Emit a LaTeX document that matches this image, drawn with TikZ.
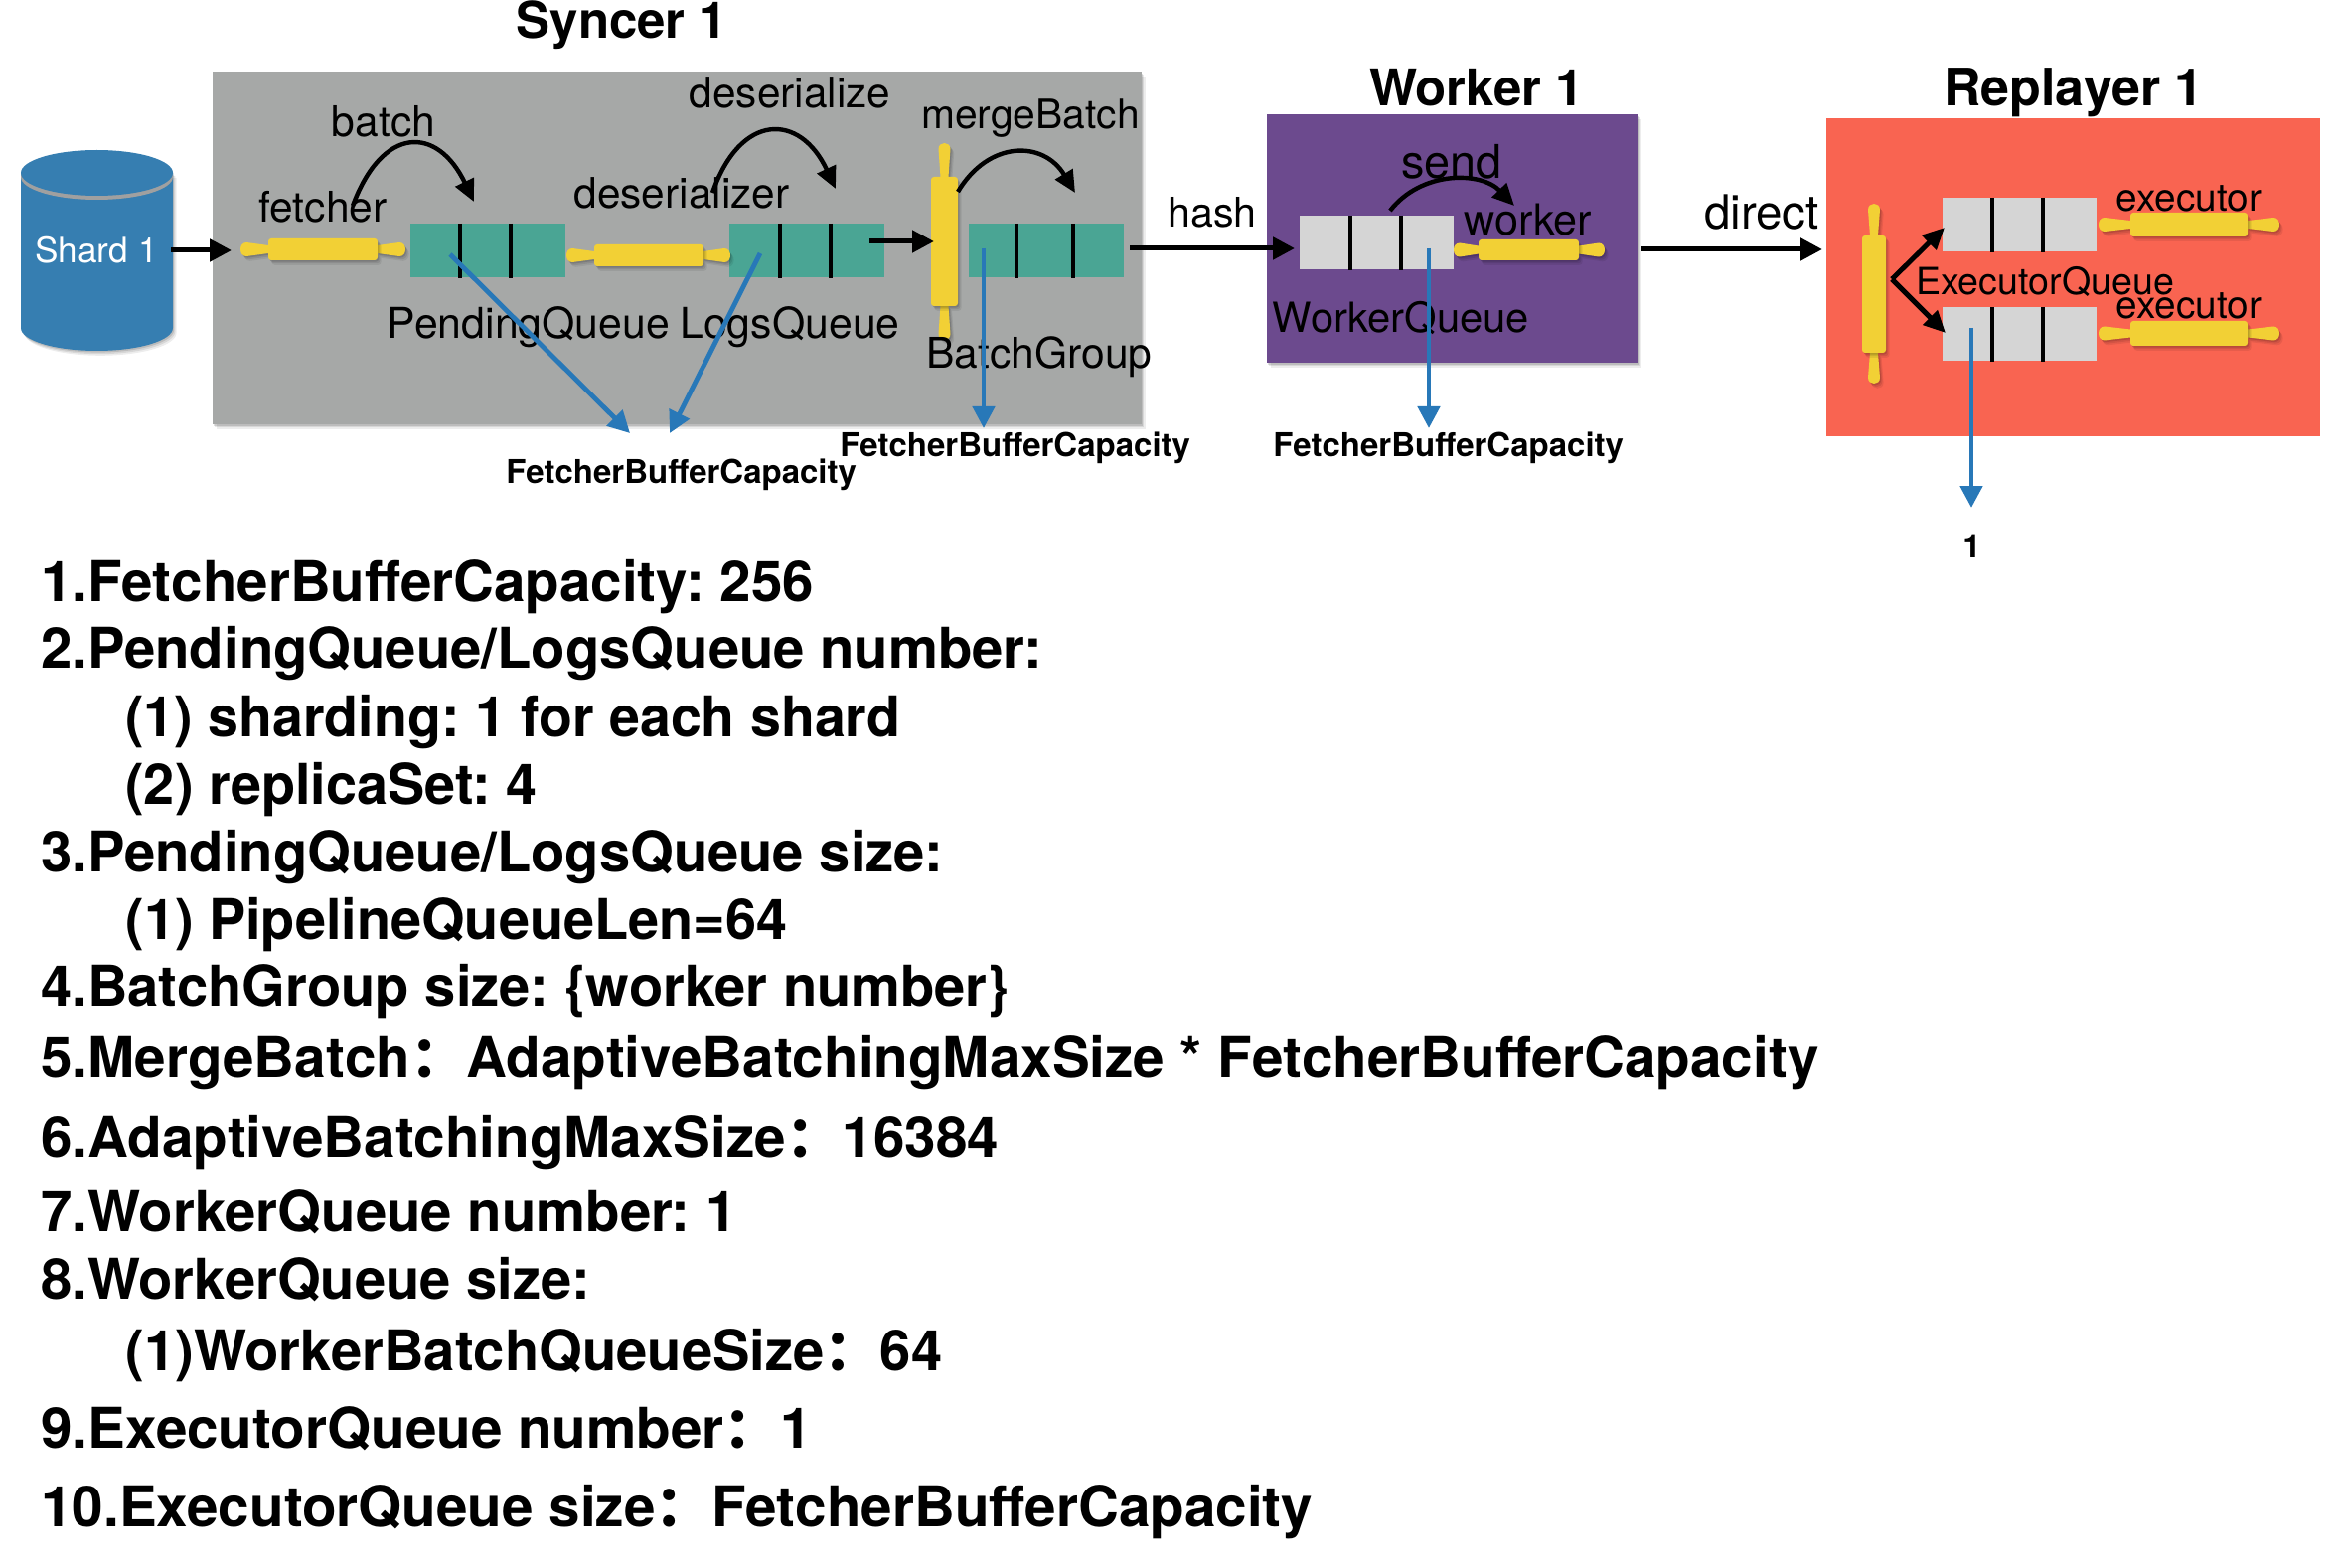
\documentclass[tikz,border=0pt]{standalone}
\usepackage{fontspec}
\setmainfont{TeX Gyre Heros}
\newfontfamily\cjk{Noto Sans CJK SC}
\usetikzlibrary{arrows.meta,shadows,shapes.geometric}
\frenchspacing
\definecolor{sgray}{HTML}{A6A8A7}
\definecolor{steal}{HTML}{4AA594}
\definecolor{syellow}{HTML}{F2D035}
\definecolor{spurple}{HTML}{6C4A8E}
\definecolor{sred}{HTML}{F96451}
\definecolor{qgray}{HTML}{D5D5D5}
\definecolor{sblue}{HTML}{2878B8}
\definecolor{scyl}{HTML}{367EB1}
\definecolor{srim}{HTML}{A0A0A0}
\tikzset{
  softshadow/.style={
    drop shadow={shadow xshift=1.8pt,shadow yshift=-2.4pt,opacity=.07,fill=black},
    drop shadow={shadow xshift=1.2pt,shadow yshift=-1.6pt,opacity=.09,fill=black},
    drop shadow={shadow xshift=.6pt,shadow yshift=-.8pt,opacity=.12,fill=black}},
  areabox/.style={anchor=north west,inner sep=0pt,outer sep=0pt,draw=none,fill=#1},
  queuebox/.style={anchor=north west,inner sep=0pt,outer sep=0pt,draw=none,fill=#1},
  divider/.style={line width=2.2pt,black},
  rollerbody/.style={anchor=north west,inner sep=0pt,outer sep=0pt,fill=syellow,draw=none,rounded corners=1.5pt},
  rollerhandle/.style={fill=syellow,draw=none},
  flowarrow/.style={line width=2.5pt,black,-{Triangle[length=11pt,width=11pt]}},
  curvedarrow/.style={line width=2.2pt,black,-{Triangle[length=11pt,width=10pt]}},
  sizearrow/.style={line width=2.4pt,sblue,-{Triangle[length=11pt,width=11pt]}},
  titletext/.style={anchor=base,inner sep=0pt,font=\fontsize{#1}{30}\selectfont\bfseries},
  titletext/.default=25.5,
  lab/.style={anchor=base,inner sep=0pt,font=\fontsize{#1}{#1}\selectfont},
  lab/.default=21,
  capnote/.style={anchor=base west,inner sep=0pt,font=\fontsize{16.5}{20}\selectfont\bfseries},
  listitem/.style={anchor=base west,inner sep=0pt,font=\fontsize{28.3}{34}\selectfont\bfseries},
}
\newcommand{\narrowed}[2]{\scalebox{#1}[1]{#2}}
% name, left, top, right, bottom, style
\newcommand{\pxbox}[6]{\node[#6,minimum width={(#4-#2)*0.5pt},minimum height={(#5-#3)*0.5pt}] (#1) at (#2,#3) {};}
% queue: name,left,top,right,bottom,colour,div1,div2
\newcommand{\pxqueue}[8]{\pxbox{#1}{#2}{#3}{#4}{#5}{queuebox=#6}
  \draw[divider] (#7,#3) -- (#7,#5+1); \draw[divider] (#8,#3) -- (#8,#5+1);}
% horizontal roller: name, xleft, xb1, xb2, xright, ytop, ybottom
\newcommand{\hroller}[7]{%
  \pgfmathsetmacro{\yc}{(#6+#7)/2}
  \fill[rollerhandle,softshadow] (#3,\yc-4) -- (#2+6,\yc-7) .. controls (#2-2,\yc-7) and (#2-2,\yc+7) .. (#2+6,\yc+7) -- (#3,\yc+4) -- cycle;
  \fill[rollerhandle,softshadow] (#4,\yc-4) -- (#5-6,\yc-7) .. controls (#5+2,\yc-7) and (#5+2,\yc+7) .. (#5-6,\yc+7) -- (#4,\yc+4) -- cycle;
  \pxbox{#1}{#3}{#6}{#4}{#7}{rollerbody,softshadow}}
% vertical roller: name, ytop, yb1, yb2, ybottom, xleft, xright
\newcommand{\vroller}[7]{%
  \pgfmathsetmacro{\xc}{(#6+#7)/2}
  \fill[rollerhandle,softshadow] (\xc-4,#3) -- (\xc-6,#2+6) .. controls (\xc-6,#2-2) and (\xc+6,#2-2) .. (\xc+6,#2+6) -- (\xc+4,#3) -- cycle;
  \fill[rollerhandle,softshadow] (\xc-4,#4) -- (\xc-6,#5-6) .. controls (\xc-6,#5+2) and (\xc+6,#5+2) .. (\xc+6,#5-6) -- (\xc+4,#4) -- cycle;
  \pxbox{#1}{#6}{#3}{#7}{#4}{rollerbody,softshadow}}
\begin{document}
\begin{tikzpicture}[x=0.5pt,y=-0.5pt]
\useasboundingbox (0,0) rectangle (2358,1578);
\fill[white] (0,0) rectangle (2358,1578);
% areas
\pxbox{syncer}{214}{72}{1149}{427}{areabox=sgray,softshadow}
\pxbox{worker}{1275}{115}{1648}{365}{areabox=spurple,softshadow}
\pxbox{replayer}{1838}{119}{2335}{439}{areabox=sred}
\node[titletext] (tsyncer) at (626,39) {Syncer 1};
\node[titletext] (tworker) at (1486,107) {Worker 1};
\node[titletext=26] (treplayer) at (2087,107) {Replayer 1};
% shard cylinder
\fill[scyl,softshadow] (21,174) -- (21,330) arc[start angle=180,end angle=0,x radius=76.5,y radius=23] -- (174,174) -- cycle;
\fill[srim] (21,178) arc[start angle=180,end angle=0,x radius=76.5,y radius=23] -- (174,174) -- (21,174) -- cycle;
\node[fill=scyl,draw=none,ellipse,inner sep=0pt,minimum width=76.5pt,minimum height=23pt] (cyltop) at (97.5,174) {};
\node[lab=17.6,text=white] (shard) at (97,265) {Shard 1};
% queues
\pxqueue{pending}{413}{225}{569}{279}{steal}{463}{514}
\pxqueue{logs}{734}{225}{890}{279}{steal}{785}{836}
\pxqueue{batchgroup}{975}{225}{1131}{279}{steal}{1023}{1080}
\pxqueue{wqueue}{1308}{217}{1463}{271}{qgray}{1359}{1410}
\pxqueue{equeueA}{1955}{199}{2110}{253}{qgray}{2005}{2056}
\pxqueue{equeueB}{1955}{309}{2110}{363}{qgray}{2005}{2056}
% rollers
\hroller{fetcher}{242}{270}{380}{408}{240}{262}
\hroller{deser}{570}{598}{708}{735}{246}{268}
\vroller{merge}{144}{178}{308}{342}{937}{964}
\hroller{wroller}{1463}{1488}{1589}{1615}{241}{262}
\vroller{froller}{205}{237}{355}{386}{1874}{1898}
\hroller{execA}{2112}{2144}{2262}{2294}{214}{238}
\hroller{execB}{2112}{2144}{2262}{2294}{323}{348}
% labels
\node[lab=21.3] (lfetcher) at (325,223.5) {fetcher};
\node[lab=21.3] (lbatch) at (386,137.5) {batch};
\node[lab=21.2] (ldeser) at (686,209.5) {deserializer};
\node[lab=21.2] (ldeserialize) at (795,108.5) {deserialize};
\node[lab=20.4] (lmerge) at (1037,129.5) {mergeBatch};
\node[lab=21.4] (lpending) at (532,340.5) {PendingQueue};
\node[lab=21.4] (llogs) at (795,340.5) {LogsQueue};
\node[lab=21.3] (lgroup) at (1046,370.5) {BatchGroup};
\node[lab=20.6] (lhash) at (1220,228.5) {hash};
\node[lab=23.4] (lsend) at (1461,179.5) {send};
\node[lab=21.6] (lworker) at (1538,236.5) {worker};
\node[lab=20.9] (lwq) at (1410,334.5) {WorkerQueue};
\node[lab=23.8] (ldirect) at (1773,230.5) {direct};
\node[lab=19.4] (lexecA) at (2203,212.5) {executor};
\node[lab=19.4] (lexecB) at (2203,320.5) {executor};
\node[lab=18.8] (leq) at (2058,296.5) {ExecutorQueue};
% connector ends
\coordinate (c1) at (172,252); \coordinate (c2) at (233,252);
\coordinate (c3) at (875,243); \coordinate (c4) at (940,243);
\coordinate (c5) at (1137,250); \coordinate (c6) at (1303,250);
\coordinate (c7) at (1652,251); \coordinate (c8) at (1834,251);
\coordinate (fork) at (1904,281); \coordinate (forkA) at (1957,229); \coordinate (forkB) at (1958,335);
\draw[flowarrow] (c1) -- (c2);
\draw[flowarrow] (c3) -- (c4);
\draw[flowarrow] (c5) -- (c6);
\draw[flowarrow] (c7) -- (c8);
\draw[line width=2.5pt,black,-{Triangle[length=11pt,width=10pt]}] (fork) -- (forkA);
\draw[line width=2.5pt,black,-{Triangle[length=11pt,width=10pt]}] (fork) -- (forkB);
% curved arrows
\coordinate (b1) at (355,207); \coordinate (b2) at (477,203);
\coordinate (d1) at (717,194); \coordinate (d2) at (841,190);
\coordinate (m1) at (964,193); \coordinate (m2) at (1082,194);
\coordinate (s1) at (1399,212); \coordinate (s2) at (1524,207);
\draw[curvedarrow] (b1) .. controls (385,126) and (440,126) .. (b2);
\draw[curvedarrow] (d1) .. controls (745,113) and (805,113) .. (d2);
\draw[curvedarrow] (m1) .. controls (995,141) and (1050,141) .. (m2);
\draw[curvedarrow] (s1) .. controls (1430,172) and (1490,172) .. (s2);
% blue size arrows
\coordinate (p1) at (453,256); \coordinate (p2) at (634,436);
\coordinate (q1) at (765,255); \coordinate (q2) at (674,436);
\coordinate (r1) at (990,250); \coordinate (r2) at (990,431);
\coordinate (t1) at (1438,250); \coordinate (t2) at (1438,431);
\coordinate (u1) at (1984,330); \coordinate (u2) at (1984,511);
\draw[sizearrow] (p1) -- (p2);
\draw[sizearrow] (q1) -- (q2);
\draw[sizearrow] (r1) -- (r2);
\draw[sizearrow] (t1) -- (t2);
\draw[sizearrow] (u1) -- (u2);
\node[capnote] (fbc1) at (509,487) {FetcherBufferCapacity};
\node[capnote] (fbc2) at (845,459) {FetcherBufferCapacity};
\node[capnote] (fbc3) at (1281,459) {FetcherBufferCapacity};
\node[capnote] (one) at (1975,561) {1};
% list
\node[listitem] (l1) at (41,605) {\narrowed{.998}{1.FetcherBufferCapacity: 256}};
\node[listitem] (l2) at (41,672) {\narrowed{.994}{2.PendingQueue/LogsQueue number:}};
\node[listitem] (l3) at (126,741) {\narrowed{.981}{(1) sharding: 1 for each shard}};
\node[listitem] (l4) at (126,809) {\narrowed{.986}{(2) replicaSet: 4}};
\node[listitem] (l5) at (41,877) {\narrowed{.993}{3.PendingQueue/LogsQueue size:}};
\node[listitem] (l6) at (126,945) {\narrowed{.987}{(1) PipelineQueueLen=64}};
\node[listitem] (l7) at (41,1012) {\narrowed{.991}{4.BatchGroup size: \{worker number\}}};
\node[listitem] (l8) at (41,1084) {5.MergeBatch{\cjk\bfseries ：}AdaptiveBatchingMaxSize * FetcherBufferCapacity};
\node[listitem] (l9) at (41,1164) {6.AdaptiveBatchingMaxSize{\cjk\bfseries ：}16384};
\node[listitem] (l10) at (41,1239) {\narrowed{.995}{7.WorkerQueue number: 1}};
\node[listitem] (l11) at (41,1307) {\narrowed{.992}{8.WorkerQueue size:}};
\node[listitem] (l12) at (126,1379) {\narrowed{.993}{(1)WorkerBatchQueueSize{\cjk\bfseries ：}64}};
\node[listitem] (l13) at (41,1457) {9.ExecutorQueue number{\cjk\bfseries ：}1};
\node[listitem] (l14) at (41,1536) {10.ExecutorQueue size{\cjk\bfseries ：}FetcherBufferCapacity};
\end{tikzpicture}
\end{document}
